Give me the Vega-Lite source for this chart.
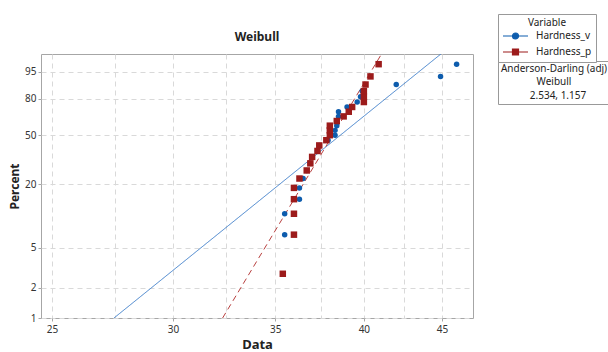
{
  "$schema": "https://vega.github.io/schema/vega-lite/v6.json",
  "width": 432,
  "height": 264,
  "autosize": "none",
  "padding": {"left": 41, "top": 54, "right": 135, "bottom": 34},
  "background": "white",
  "title": {"text": "Weibull", "fontSize": 12, "fontWeight": "bold", "font": "Noto Sans", "color": "#222222", "offset": 10, "dy": 40, "frame": "group", "anchor": "middle"},
  "config": {
    "font": "Noto Sans",
    "view": {"stroke": "#a6a6a6", "strokeWidth": 1},
    "axis": {
      "labelFont": "Noto Sans", "labelFontSize": 10, "labelColor": "#333333",
      "titleFont": "Noto Sans", "titleFontWeight": "bold", "titleColor": "#222222",
      "domain": false, "tickColor": "#a6a6a6", "tickSize": 3,
      "gridColor": "#d9d9d9", "gridDash": [5, 4], "gridWidth": 1
    }
  },
  "datasets": {
    "points": [
      {"var": "Hardness_v", "value": 35.4, "pct": 2.76},
      {"var": "Hardness_v", "value": 35.5, "pct": 6.69},
      {"var": "Hardness_v", "value": 35.5, "pct": 10.63},
      {"var": "Hardness_v", "value": 36.3, "pct": 14.57},
      {"var": "Hardness_v", "value": 36.3, "pct": 18.50},
      {"var": "Hardness_v", "value": 36.5, "pct": 22.44},
      {"var": "Hardness_v", "value": 36.7, "pct": 26.38},
      {"var": "Hardness_v", "value": 36.9, "pct": 30.31},
      {"var": "Hardness_v", "value": 37.0, "pct": 34.25},
      {"var": "Hardness_v", "value": 37.3, "pct": 38.19},
      {"var": "Hardness_v", "value": 37.4, "pct": 42.13},
      {"var": "Hardness_v", "value": 37.9, "pct": 46.06},
      {"var": "Hardness_v", "value": 38.3, "pct": 50.00},
      {"var": "Hardness_v", "value": 38.3, "pct": 53.94},
      {"var": "Hardness_v", "value": 38.4, "pct": 57.87},
      {"var": "Hardness_v", "value": 38.4, "pct": 61.81},
      {"var": "Hardness_v", "value": 38.5, "pct": 65.75},
      {"var": "Hardness_v", "value": 38.5, "pct": 69.69},
      {"var": "Hardness_v", "value": 39.0, "pct": 73.62},
      {"var": "Hardness_v", "value": 39.6, "pct": 77.56},
      {"var": "Hardness_v", "value": 39.8, "pct": 81.50},
      {"var": "Hardness_v", "value": 39.9, "pct": 85.43},
      {"var": "Hardness_v", "value": 42.0, "pct": 89.37},
      {"var": "Hardness_v", "value": 44.9, "pct": 93.31},
      {"var": "Hardness_v", "value": 46.0, "pct": 97.24},
      {"var": "Hardness_p", "value": 35.4, "pct": 2.76},
      {"var": "Hardness_p", "value": 36.0, "pct": 6.69},
      {"var": "Hardness_p", "value": 36.0, "pct": 10.63},
      {"var": "Hardness_p", "value": 36.0, "pct": 14.57},
      {"var": "Hardness_p", "value": 36.0, "pct": 18.50},
      {"var": "Hardness_p", "value": 36.3, "pct": 22.44},
      {"var": "Hardness_p", "value": 36.7, "pct": 26.38},
      {"var": "Hardness_p", "value": 36.9, "pct": 30.31},
      {"var": "Hardness_p", "value": 37.0, "pct": 34.25},
      {"var": "Hardness_p", "value": 37.3, "pct": 38.19},
      {"var": "Hardness_p", "value": 37.4, "pct": 42.13},
      {"var": "Hardness_p", "value": 37.8, "pct": 46.06},
      {"var": "Hardness_p", "value": 38.0, "pct": 50.00},
      {"var": "Hardness_p", "value": 38.0, "pct": 53.94},
      {"var": "Hardness_p", "value": 38.0, "pct": 57.87},
      {"var": "Hardness_p", "value": 38.4, "pct": 61.81},
      {"var": "Hardness_p", "value": 38.8, "pct": 65.75},
      {"var": "Hardness_p", "value": 39.1, "pct": 69.69},
      {"var": "Hardness_p", "value": 39.3, "pct": 73.62},
      {"var": "Hardness_p", "value": 40.0, "pct": 77.56},
      {"var": "Hardness_p", "value": 40.0, "pct": 81.50},
      {"var": "Hardness_p", "value": 40.0, "pct": 85.43},
      {"var": "Hardness_p", "value": 40.1, "pct": 89.37},
      {"var": "Hardness_p", "value": 40.4, "pct": 93.31},
      {"var": "Hardness_p", "value": 40.9, "pct": 97.24}
    ],
    "fits": [
      {"var": "Hardness_v", "value": 27.45, "pct": 1, "ad": "2.534, 1.157"},
      {"var": "Hardness_v", "value": 44.97, "pct": 99, "ad": "2.534, 1.157"},
      {"var": "Hardness_p", "value": 32.33, "pct": 1, "ad": "2.534, 1.157"},
      {"var": "Hardness_p", "value": 41.1, "pct": 99, "ad": "2.534, 1.157"}
    ]
  },
  "encoding": {
    "x": {
      "field": "value", "type": "quantitative",
      "scale": {"type": "log", "domain": [24.59, 47.15], "nice": false},
      "axis": {
        "title": "Data", "titleFontSize": 13, "titlePadding": 4, "labelPadding": 3,
        "values": [25, 27.5, 30, 32.5, 35, 37.5, 40, 42.5, 45],
        "labelExpr": "datum.value % 5 === 0 ? format(datum.value, 'd') : ''",
        "tickOpacity": {"condition": {"test": "datum.value % 5 === 0", "value": 1}, "value": 0}
      }
    },
    "y": {
      "field": "w", "type": "quantitative",
      "scale": {"domain": [-4.6001, 1.514], "nice": false, "zero": false},
      "axis": {
        "title": "Percent", "titleFontSize": 12, "titlePadding": 3, "labelPadding": 2,
        "values": [-4.6001, -3.9019, -2.9702, -1.4999, -0.3665, 0.4759, 1.0972],
        "labelExpr": "format(100 * (1 - exp(-exp(datum.value))), '.0f')"
      }
    }
  },
  "layer": [
    {
      "data": {"name": "fits"},
      "transform": [{"calculate": "log(-log(1 - datum.pct / 100))", "as": "w"}],
      "mark": {"type": "line", "strokeWidth": 1, "clip": true},
      "encoding": {
        "color": {"field": "var", "type": "nominal", "scale": {"domain": ["Hardness_v", "Hardness_p"], "range": ["#3f7fcb", "#b8403f"]}, "legend": null},
        "strokeDash": {"field": "var", "type": "nominal", "scale": {"domain": ["Hardness_v", "Hardness_p"], "range": [[1, 0], [6, 4]]}, "legend": null},
        "opacity": {
          "field": "ad", "type": "nominal", "scale": {"range": [1]},
          "legend": {
            "orient": "none", "legendX": 457, "legendY": 7,
            "title": ["Anderson-Darling (adj)", "Weibull"],
            "titleAlign": "center", "titleAnchor": "middle", "titleFontWeight": "normal",
            "titleFontSize": 10, "titleLineHeight": 12.5, "titleColor": "#222222", "titlePadding": 4,
            "labelFontSize": 10, "labelColor": "#222222", "labelAlign": "center", "labelOffset": 27,
            "symbolSize": 1, "symbolOpacity": 0, "symbolStrokeWidth": 0,
            "strokeColor": "#999999", "fillColor": "white", "padding": 3
          }
        }
      }
    },
    {
      "data": {"name": "points"},
      "transform": [{"calculate": "log(-log(1 - datum.pct / 100))", "as": "w"}],
      "mark": {"type": "point", "filled": true, "opacity": 1},
      "encoding": {
        "color": {"field": "var", "type": "nominal", "scale": {"domain": ["Hardness_v", "Hardness_p"], "range": ["#0d5cad", "#9c1b1b"]}, "legend": null},
        "shape": {"field": "var", "type": "nominal", "scale": {"domain": ["Hardness_v", "Hardness_p"], "range": ["circle", "square"]}, "legend": null},
        "size": {"field": "var", "type": "nominal", "scale": {"domain": ["Hardness_v", "Hardness_p"], "range": [30, 42]}, "legend": null}
      }
    },
    {
      "data": {"name": "points"},
      "transform": [{"filter": "false"}],
      "mark": {"type": "point", "filled": true, "opacity": 1, "strokeWidth": 1.2},
      "encoding": {
        "color": {
          "field": "var", "type": "nominal",
          "scale": {"domain": ["Hardness_v", "Hardness_p"], "range": ["#0d5cad", "#9c1b1b"]},
          "legend": {
            "orient": "none", "legendX": 457, "legendY": -40,
            "title": "Variable", "titleAlign": "center", "titleAnchor": "middle", "titleFontWeight": "normal",
            "titleFontSize": 10, "titleColor": "#222222", "titlePadding": 3,
            "labelFontSize": 10, "labelColor": "#222222", "labelOffset": 24,
            "symbolSize": 64, "symbolStrokeWidth": 1.2, "rowPadding": 4,
            "strokeColor": "#999999", "fillColor": "white", "padding": 4
          }
        },
        "stroke": {
          "field": "var", "type": "nominal",
          "scale": {"domain": ["Hardness_v", "Hardness_p"], "range": ["#0d5cad", "#9c1b1b"]},
          "legend": {
            "orient": "none", "legendX": 457, "legendY": -40,
            "title": "Variable", "titleAlign": "center", "titleAnchor": "middle", "titleFontWeight": "normal",
            "titleFontSize": 10, "titleColor": "#222222", "titlePadding": 3,
            "labelFontSize": 10, "labelColor": "#222222", "labelOffset": 24,
            "symbolSize": 64, "symbolStrokeWidth": 1.2, "rowPadding": 4,
            "strokeColor": "#999999", "fillColor": "white", "padding": 4
          }
        },
        "shape": {
          "field": "var", "type": "nominal",
          "scale": {"domain": ["Hardness_v", "Hardness_p"], "range": ["M-1,0L5.25,0M1.375,0A0.75,0.75,0,1,1,2.875,0A0.75,0.75,0,1,1,1.375,0Z", "M-1,0L5.25,0M1.375,-0.75L2.875,-0.75L2.875,0.75L1.375,0.75Z"]},
          "legend": {
            "orient": "none", "legendX": 457, "legendY": -40,
            "title": "Variable", "titleAlign": "center", "titleAnchor": "middle", "titleFontWeight": "normal",
            "titleFontSize": 10, "titleColor": "#222222", "titlePadding": 3,
            "labelFontSize": 10, "labelColor": "#222222", "labelOffset": 24,
            "symbolSize": 64, "symbolStrokeWidth": 1.2, "rowPadding": 4,
            "strokeColor": "#999999", "fillColor": "white", "padding": 4
          }
        }
      }
    }
  ],
  "resolve": {"scale": {"color": "independent", "shape": "independent", "stroke": "independent", "size": "independent"}}
}
